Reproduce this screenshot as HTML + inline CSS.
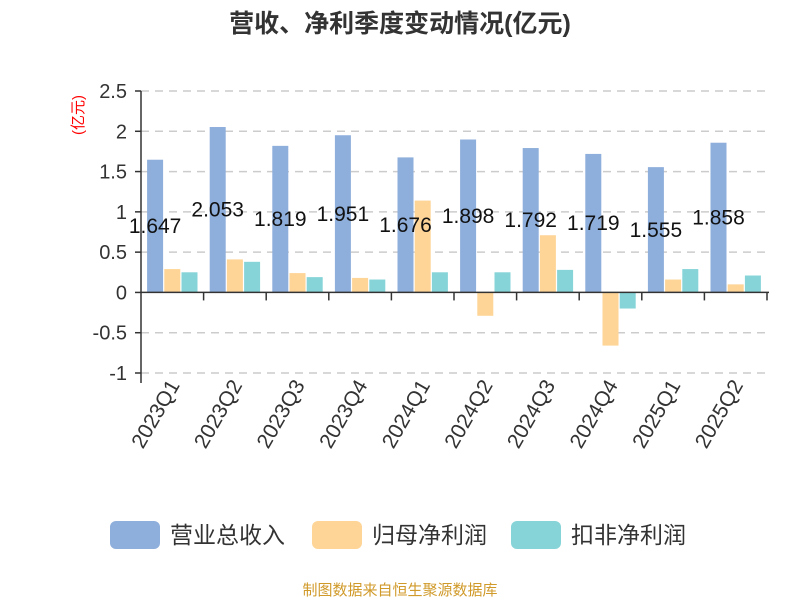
<!DOCTYPE html>
<html><head><meta charset="utf-8"><style>
body{margin:0;background:#fff;width:800px;height:600px;overflow:hidden;font-family:"Liberation Sans","Noto Sans CJK SC",sans-serif}
</style></head><body>
<svg id="c" width="800" height="600" xmlns="http://www.w3.org/2000/svg" font-family="Liberation Sans, Noto Sans CJK SC, sans-serif">
<text x="400" y="32" text-anchor="middle" font-size="25" font-weight="bold" fill="#333">营收、净利季度变动情况(亿元)</text>
<text transform="translate(83,115) rotate(-90)" text-anchor="middle" font-size="15" fill="#f00">(亿元)</text>
<g id="grid"></g><g id="bars"></g><g id="axes"></g><g id="labels"></g>
<g>
<rect x="110" y="521" width="50" height="28" rx="6" fill="#8eaedb"/>
<text x="170" y="543" font-size="23" fill="#333">营业总收入</text>
<rect x="312" y="521" width="50" height="28" rx="6" fill="#fed597"/>
<text x="372" y="543" font-size="23" fill="#333">归母净利润</text>
<rect x="511" y="521" width="50" height="28" rx="6" fill="#86d4d8"/>
<text x="571" y="543" font-size="23" fill="#333">扣非净利润</text>
</g>
<text x="400" y="595" text-anchor="middle" font-size="15" fill="#d09a2a">制图数据来自恒生聚源数据库</text>
</svg>
<script>
const categories=["2023Q1","2023Q2","2023Q3","2023Q4","2024Q1","2024Q2","2024Q3","2024Q4","2025Q1","2025Q2"];
const revenue=[1.647,2.053,1.819,1.951,1.676,1.898,1.792,1.719,1.555,1.858];
const netProfit=[0.29,0.41,0.24,0.18,1.14,-0.29,0.71,-0.66,0.16,0.10];
const deducted=[0.25,0.38,0.19,0.16,0.25,0.25,0.28,-0.20,0.29,0.21];
const yTicks=[2.5,2,1.5,1,0.5,0,-0.5,-1];
const NS="http://www.w3.org/2000/svg";
const x0=141,x1=767,yTop=91,yBot=373,vMax=2.5,vMin=-1;
const y=v=>yTop+(vMax-v)/(vMax-vMin)*(yBot-yTop);
const band=(x1-x0)/categories.length;
const xc=i=>x0+band*i;
function mk(t,a,p){const e=document.createElementNS(NS,t);for(const k in a)e.setAttribute(k,a[k]);p.appendChild(e);return e;}
const grid=document.getElementById('grid'),bars=document.getElementById('bars'),axes=document.getElementById('axes'),labels=document.getElementById('labels');
yTicks.forEach(v=>{
 if(v!==0){const l=mk('line',{x1:x0,x2:x1+3,y1:y(v),y2:y(v),stroke:'#ccc','stroke-dasharray':'8,6','stroke-width':1.5},grid);
 
 }
 const t=mk('text',{x:x0-14,y:y(v)+7,'text-anchor':'end','font-size':20,fill:'#333'},axes);t.textContent=v;
 
 
 const tk=mk('line',{x1:x0-6,x2:x0,y1:y(v),y2:y(v),stroke:'#333','stroke-width':1.5},axes);
 
 
});
const ya=mk('line',{x1:x0,x2:x0,y1:yTop,y2:yBot+10,stroke:'#333','stroke-width':1.5},axes);


const xa=mk('line',{x1:x0,x2:x1+2,y1:y(0),y2:y(0),stroke:'#333','stroke-width':1.5},axes);


const series=[[revenue,'#8eaedb','revenue'],[netProfit,'#fed597','net-profit'],[deducted,'#86d4d8','deducted-profit']];
const bw=16,gap=1.2;
categories.forEach((c,i)=>{
 const tk=mk('line',{x1:xc(i+1),x2:xc(i+1),y1:y(0),y2:y(0)+8,stroke:'#333','stroke-width':1.5},axes);
 
 
 const cx=xc(i)+band/2;
 const t=mk('text',{transform:`translate(${cx+8},${yBot+12}) rotate(-60)`,'text-anchor':'end','font-size':21,fill:'#333'},axes);t.textContent=c;
 
 
 const start=cx-(3*bw+2*gap)/2;
 series.forEach((s,k)=>{
  const v=s[0][i],bx=start+k*(bw+gap);
  const r=mk('rect',{x:bx,y:Math.min(y(v),y(0)),width:bw,height:Math.abs(y(v)-y(0)),fill:s[1]},bars);
  
  
  if(k===0){
   const lb=mk('text',{x:bx+bw/2,y:y(v/2)+7,'text-anchor':'middle','font-size':21,fill:'#111'},labels);lb.textContent=v;
   
   
  }
 });
});
</script>
</body></html>
